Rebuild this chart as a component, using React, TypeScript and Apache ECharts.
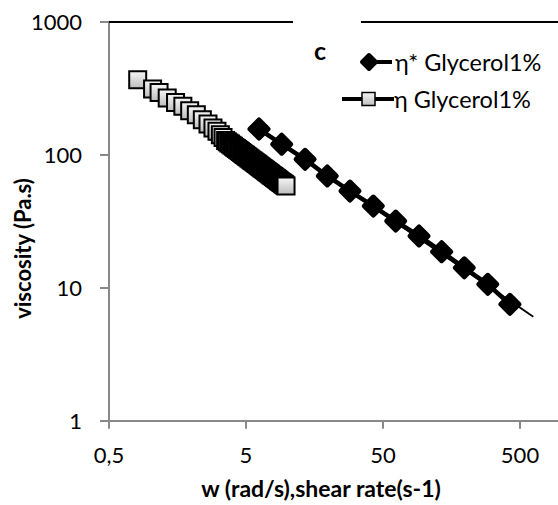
import React, { useEffect, useRef } from "react";
import * as echarts from "echarts";

// η* (complex viscosity) vs angular frequency w (rad/s)
const etaStarW = [6.22, 9.11, 13.5, 19.6, 28.7, 42.5, 61.9, 91.6, 134, 196, 291, 422];
const etaStarVisc = [156, 120, 92.3, 69.2, 53.3, 41.1, 31.7, 24.5, 18.65, 14.1, 10.6, 7.5];

// η (steady shear viscosity) vs shear rate (s-1)
const etaRate = [
  0.81, 1.04, 1.16, 1.33, 1.53, 1.73, 1.94, 2.17, 2.4, 2.64, 2.87, 3.07, 3.25, 3.4, 3.55,
  3.65, 3.75, 3.85, 3.95, 4.05, 4.15, 4.25, 4.35, 4.45, 4.55, 4.65, 4.75, 4.85, 4.95,
  5.05, 5.15, 5.25, 5.35, 5.45, 5.55, 5.65, 5.75, 5.85, 5.95, 6.05, 6.15, 6.25, 6.35, 6.45,
  6.55, 6.65, 6.75, 6.85, 6.95, 7.05, 7.15, 7.25, 7.35, 7.45, 7.55, 7.65, 7.75, 7.85, 7.95,
  8.05, 8.15, 8.25, 8.35, 8.45, 8.55, 8.65, 8.75, 8.85, 8.95, 9.05, 9.15, 9.25, 9.35, 9.45,
  9.55, 9.65, 9.8,
];
const etaVisc = [
  366, 312, 294, 267, 247, 231, 214, 200, 183, 170, 159, 150, 141, 134.7, 128,
  125.3, 122.7, 120.2, 117.8, 115.6, 113.4, 111.3, 109.3, 107.4, 105.6, 103.8, 102.1, 100.5, 98.9,
  97.4, 95.9, 94.5, 93.1, 91.7, 90.5, 89.2, 88, 86.9, 85.7, 84.6, 83.5, 82.5, 81.5, 80.5,
  79.6, 78.6, 77.7, 76.9, 76, 75.2, 74.3, 73.5, 72.8, 72, 71.3, 70.5, 69.8, 69.1, 68.5,
  67.8, 67.1, 66.5, 65.9, 65.3, 64.7, 64.1, 63.5, 63, 62.4, 61.9, 61.4, 60.8, 60.3, 59.9,
  59.4, 58.9, 58.2,
];

// power-law trend line of η*
const trendW = [6.22, 625];
const trendVisc = [156, 6.05];

const xTicks = [0.5, 5, 50, 500];
const yTicks = [1, 10, 100, 1000];

const seriesNames = ["η* Glycerol1%", "η Glycerol1%"];
const panelLetter = "c";
const xTitle = "w (rad/s),shear rate(s-1)";
const yTitle = "viscosity (Pa.s)";

const FONT = "Lato";
const AXIS_GRAY = "#898989";

const squareFill = () =>
  new echarts.graphic.LinearGradient(0, 0, 0, 1, [
    { offset: 0, color: "#f6f6f6" },
    { offset: 1, color: "#bdbdbd" },
  ]);

export default function App() {
  const ref = useRef<HTMLDivElement>(null);

  useEffect(() => {
    document.body.style.margin = "0";
    if (!ref.current) return;
    const chart = echarts.init(ref.current, undefined, { renderer: "svg" });

    const zip = (a: number[], b: number[]) => a.map((v, i) => [v, b[i]]);

    chart.setOption({
      animation: false,
      backgroundColor: "#fff",
      grid: { left: 109, right: 0, top: 21.7, bottom: 84.3, containLabel: false },
      xAxis: {
        type: "log",
        logBase: 10,
        min: 0.5,
        max: 947,
        axisLine: { show: true, lineStyle: { color: AXIS_GRAY, width: 2 } },
        axisTick: { show: true, length: 8, lineStyle: { color: AXIS_GRAY, width: 2 }, customValues: xTicks },
        axisLabel: {
          customValues: xTicks,
          formatter: (v: number) => String(v).replace(".", ","),
          fontFamily: FONT,
          fontSize: 22,
          color: "#000",
          margin: 23,
        },
        splitLine: { show: false },
        minorTick: { show: false },
      },
      yAxis: {
        type: "log",
        logBase: 10,
        min: 1,
        max: 1000,
        axisLine: { show: true, lineStyle: { color: AXIS_GRAY, width: 2 } },
        axisTick: { show: true, length: 9, lineStyle: { color: AXIS_GRAY, width: 2 }, customValues: yTicks },
        axisLabel: {
          customValues: yTicks,
          formatter: (v: number) => String(v),
          fontFamily: FONT,
          fontSize: 22,
          color: "#000",
          margin: 27,
        },
        splitLine: { show: false },
        minorTick: { show: false },
      },
      series: [
        {
          name: "trend",
          type: "line",
          data: zip(trendW, trendVisc),
          symbol: "none",
          lineStyle: { color: "#000", width: 1.8 },
          z: 1,
          silent: true,
        },
        {
          name: seriesNames[0],
          type: "line",
          data: zip(etaStarW, etaStarVisc),
          symbol: "diamond",
          symbolSize: 18,
          showAllSymbol: true,
          lineStyle: { color: "#000", width: 4.5 },
          itemStyle: { color: "#000", borderColor: "#000", borderWidth: 5, borderJoin: "round" },
          z: 3,
        },
        {
          name: seriesNames[1],
          type: "line",
          data: zip(etaRate, etaVisc),
          symbol: "rect",
          symbolSize: 17,
          showAllSymbol: true,
          lineStyle: { color: "#000", width: 4 },
          itemStyle: { color: squareFill(), borderColor: "#000", borderWidth: 2 },
          z: 2,
        },
      ],
      graphic: [
        // top border of plot (broken by text box)
        { type: "line", shape: { x1: 109, y1: 22, x2: 293, y2: 22 }, style: { stroke: "#000", lineWidth: 2 }, z: 10 },
        { type: "line", shape: { x1: 361, y1: 22, x2: 558, y2: 22 }, style: { stroke: "#000", lineWidth: 2 }, z: 10 },
        // panel letter
        {
          type: "text",
          x: 320,
          y: 50,
          style: { text: panelLetter, font: `bold 25px ${FONT}`, fill: "#000", align: "center", verticalAlign: "middle" },
          z: 10,
        },
        // legend item 1
        { type: "line", shape: { x1: 368, y1: 62, x2: 392, y2: 62 }, style: { stroke: "#000", lineWidth: 4 }, z: 10 },
        {
          type: "polygon",
          shape: { points: [[369, 55], [376, 62], [369, 69], [362, 62]] },
          style: { fill: "#000", stroke: "#000", lineWidth: 4, lineJoin: "round" },
          z: 11,
        },
        {
          type: "text",
          x: 395,
          y: 62,
          style: { text: seriesNames[0], font: `23.5px ${FONT}`, fill: "#000", align: "left", verticalAlign: "middle" },
          z: 10,
        },
        // legend item 2
        { type: "line", shape: { x1: 342, y1: 99, x2: 394, y2: 99 }, style: { stroke: "#000", lineWidth: 4 }, z: 10 },
        {
          type: "rect",
          shape: { x: 362, y: 92.5, width: 13, height: 13 },
          style: { fill: squareFill(), stroke: "#000", lineWidth: 1.5 },
          z: 11,
        },
        {
          type: "text",
          x: 394,
          y: 99,
          style: { text: seriesNames[1], font: `23.5px ${FONT}`, fill: "#000", align: "left", verticalAlign: "middle" },
          z: 10,
        },
        // axis titles
        {
          type: "text",
          x: 321,
          y: 488,
          style: { text: xTitle, font: `bold 23px ${FONT}`, fill: "#000", align: "center", verticalAlign: "middle" },
          z: 10,
        },
        {
          type: "text",
          x: 22,
          y: 248.5,
          rotation: Math.PI / 2,
          style: { text: yTitle, font: `bold 22px ${FONT}`, fill: "#000", align: "center", verticalAlign: "middle" },
          z: 10,
        },
      ],
    });

    return () => chart.dispose();
  }, []);

  return <div ref={ref} style={{ width: 558, height: 505 }} />;
}
